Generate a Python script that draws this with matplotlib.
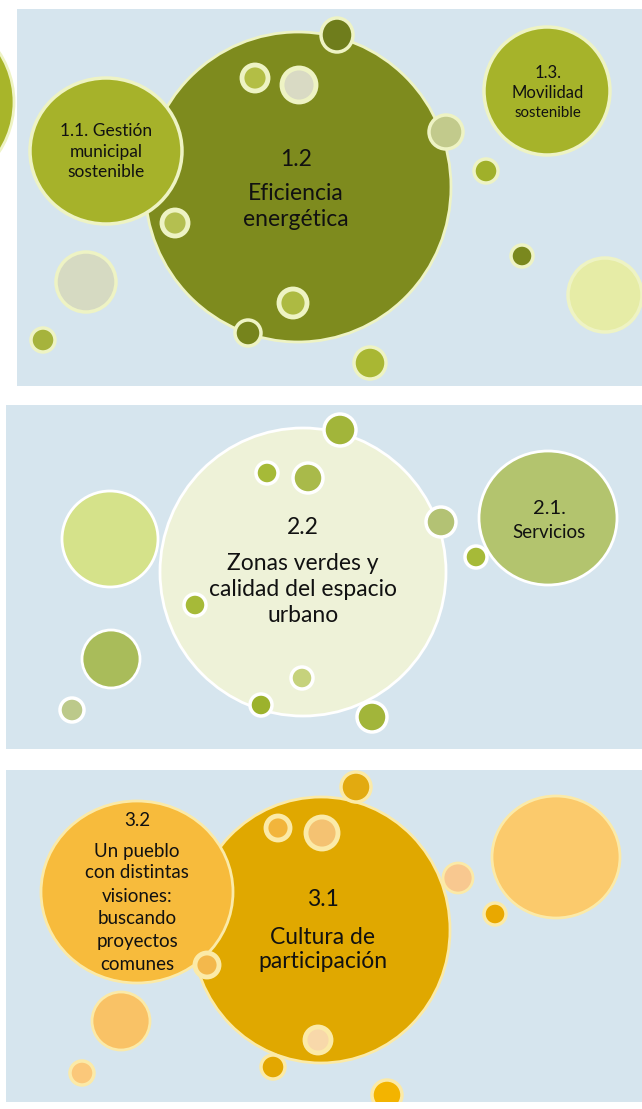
import matplotlib.pyplot as plt
from matplotlib.patches import Rectangle, Ellipse

plt.rcParams['font.family'] = ['Lato', 'DejaVu Sans']

W, H = 642, 1109

# panel boxes: x0, y0, x1, y1 (pixels, y down)
panel_boxes = [(17, 9, 642, 386), (6, 405, 642, 749), (6, 770, 642, 1102)]
panel_bg = '#d6e5ee'

# bubbles per panel: centre x, centre y, radius x, radius y, fill, ring width
p1_x = [-77, 298, 106, 547, 337, 255, 299, 446, 486, 522, 605, 370, 175, 293, 248, 86, 43]
p1_y = [102, 187, 151, 91, 35, 78, 85, 132, 171, 256, 295, 363, 223, 303, 333, 282, 340]
p1_rx = [91, 153, 76, 63, 16, 13, 17, 17, 12, 11, 37, 16, 13, 14, 13, 30, 12]
p1_ry = [91, 155, 73, 64, 17, 13, 17, 17, 12, 11, 37, 16, 13, 14, 13, 30, 12]
p1_fill = ['#a8b52a', '#7e8b1e', '#a6b22a', '#a6b32a', '#6f7d1c', '#b3be45',
           '#d9dac4', '#c2ca8c', '#a0b02a', '#7a881e', '#e6eca6', '#a9b733',
           '#b4bf50', '#adba42', '#76841c', '#d6dac2', '#a6b33c']
p1_ring = [2, 2, 2.5, 2.5, 2.5, 3.5, 3.5, 2.5, 2.5, 2.5, 2.5, 2.5, 3.5, 3.5, 2.5, 2.5, 2.5]
p1_edge = '#eef3c4'

p2_x = [303, 110, 111, 72, 195, 267, 308, 340, 441, 476, 548, 302, 261, 372]
p2_y = [572, 539, 659, 710, 605, 473, 478, 430, 522, 557, 518, 678, 705, 717]
p2_rx = [143, 48, 29, 12, 11, 11, 15, 16, 15, 11, 69, 11, 11, 15]
p2_ry = [144, 48, 29, 12, 11, 11, 15, 16, 15, 11, 67, 11, 11, 15]
p2_fill = ['#eef2d8', '#d5e28a', '#a9bc5a', '#bcc98a', '#a6ba38', '#a6ba38',
           '#a9ba4a', '#a2b53a', '#b3c274', '#a6ba38', '#b3c46e', '#c6d27c',
           '#9cb22c', '#a2b53a']
p2_ring = [2, 2, 2, 2.5, 2.5, 2.5, 2.5, 2.5, 2.5, 2.5, 2, 2.5, 2.5, 2.5]
p2_edge = '#ffffff'

p3_x = [321, 137, 356, 278, 322, 458, 495, 556, 207, 121, 82, 318, 273, 387]
p3_y = [930, 892, 787, 828, 833, 878, 914, 857, 965, 1021, 1073, 1040, 1067, 1095]
p3_rx = [129, 96, 15, 12, 16, 15, 11, 64, 12, 29, 12, 13, 12, 15]
p3_ry = [133, 91, 15, 12, 16, 15, 11, 61, 12, 29, 12, 13, 12, 15]
p3_fill = ['#e0a800', '#f7bb3c', '#e2aa10', '#f2b53c', '#f4c272', '#f8c890',
           '#e9a800', '#fbca6c', '#f3b84c', '#f9c266', '#fbc87a', '#f8d8aa',
           '#e3a700', '#f3b400']
p3_ring = [2, 2, 2.5, 3.5, 3.5, 2, 2.5, 2, 3.5, 2, 2.5, 3.5, 2.5, 2.5]
p3_edge = '#fbeaa8'

panel_order = [
    (p1_x, p1_y, p1_rx, p1_ry, p1_fill, p1_ring, p1_edge),
    (p2_x, p2_y, p2_rx, p2_ry, p2_fill, p2_ring, p2_edge),
    (p3_x, p3_y, p3_rx, p3_ry, p3_fill, p3_ring, p3_edge),
]

# labels: text, x, y, font size
labels_1 = [("1.1. Gestión", 106, 131, 12.5), ("municipal", 106, 152, 12.5), ("sostenible", 106, 172, 12.5),
            ("1.2", 296, 160, 16.5), ("Eficiencia", 296, 193, 16.5), ("energética", 296, 220, 16.5),
            ("1.3.", 548, 73, 12), ("Movilidad", 548, 93, 12), ("sostenible", 548, 113, 10.8)]
labels_2 = [("2.2", 303, 528, 16.5), ("Zonas verdes y", 303, 563, 16.5),
            ("calidad del espacio", 303, 590, 16.5), ("urbano", 303, 616, 16.5),
            ("2.1.", 549, 508, 14.5), ("Servicios", 549, 532, 13.5)]
labels_3 = [("3.2", 137, 820, 13.5), ("Un pueblo", 137, 851, 13.5), ("con distintas", 137, 873, 13.5),
            ("visiones:", 137, 896, 13.5), ("buscando", 137, 919, 13.5), ("proyectos", 137, 942, 13.5),
            ("comunes", 137, 964, 13.5),
            ("3.1", 323, 900, 16.5), ("Cultura de", 323, 937, 16.5), ("participación", 323, 962, 16.5)]

fig = plt.figure(figsize=(W / 100, H / 100), dpi=100)
ax = fig.add_axes([0, 0, 1, 1])
ax.set_xlim(0, W)
ax.set_ylim(H, 0)
ax.set_aspect('equal')
ax.axis('off')

z = 1
for i, (box, spec) in enumerate(zip(panel_boxes, panel_order)):
    x0, y0, x1, y1 = box
    bg = Rectangle((x0, y0), x1 - x0, y1 - y0, facecolor=panel_bg, edgecolor='none', zorder=z)
    ax.add_patch(bg)
    z += 1
    xs, ys, rxs, rys, fills, rings, edge = spec
    for k in range(len(xs)):
        e = Ellipse((xs[k], ys[k]), 2 * rxs[k], 2 * rys[k], facecolor=fills[k],
                    edgecolor=edge, linewidth=rings[k], zorder=z)
        ax.add_patch(e)
        # the partial bubble at the far left sits on the white page
        if not (i == 0 and k == 0):
            e.set_clip_path(bg)
        z += 1

for group in (labels_1, labels_2, labels_3):
    for txt, x, y, fs in group:
        ax.text(x, y, txt, ha='center', va='center', fontsize=fs, color='#111111', zorder=200)

fig.savefig('out.png', dpi=100, facecolor='white')
